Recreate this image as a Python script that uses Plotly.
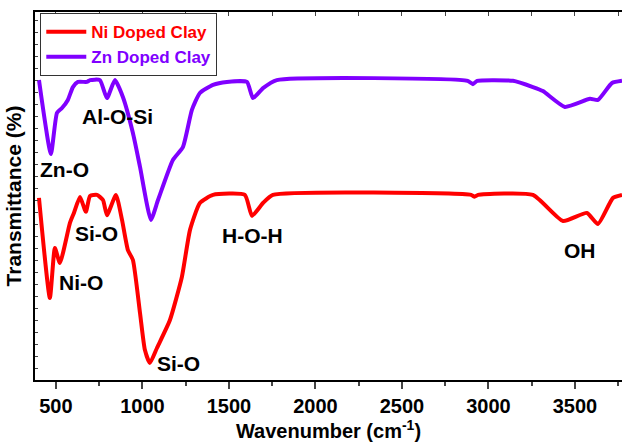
import plotly.graph_objects as go

# Wavenumber (cm-1) and transmittance (arbitrary %, offset curves)
ni_wavenumber = [402, 465, 494, 523, 581, 604, 639, 673, 697, 737, 772, 795, 847, 882, 916, 945,
                 986, 1014, 1043, 1084, 1159, 1228, 1275, 1332, 1408, 1592, 1633, 1697, 1754,
                 2900, 2920, 2940, 3257, 3431, 3569, 3633, 3720, 3772]
ni_transmittance = [49.5, 22.3, 35.9, 31.8, 42.7, 45.4, 49.7, 45.7, 50.0, 50.3, 48.9, 44.8, 50.3, 43.5,
                    35.3, 32.6, 18.2, 8.2, 4.6, 8.7, 16.3, 28.0, 40.8, 48.1, 50.3, 50.3, 44.6, 48.1,
                    50.3, 50.3, 49.8, 50.3, 50.3, 43.2, 45.4, 42.4, 49.5, 50.3]

zn_wavenumber = [402, 471, 506, 535, 569, 598, 627, 679, 697, 754, 795, 841, 887, 945, 986, 1049,
                 1090, 1176, 1234, 1286, 1332, 1408, 1488, 1604, 1639, 1697, 1777, 2880, 2910,
                 2935, 3142, 3257, 3315, 3442, 3587, 3633, 3714, 3772]
zn_transmittance = [81.5, 61.4, 72.6, 73.9, 76.1, 79.6, 81.0, 81.0, 81.5, 81.5, 76.6, 81.5, 76.9,
                    67.1, 57.9, 43.5, 48.9, 59.8, 63.3, 73.4, 78.0, 80.2, 81.0, 81.0, 76.6, 79.3,
                    81.5, 81.3, 80.4, 81.3, 81.3, 79.6, 78.5, 74.2, 76.4, 76.1, 80.7, 81.3]

series_names = ["Ni Doped Clay", "Zn Doped Clay"]
series_colors = ["#FF0000", "#8000FF"]

# Band labels: text, wavenumber, transmittance
band_labels = ["Zn-O", "Al-O-Si", "Si-O", "Ni-O", "Si-O", "H-O-H", "OH"]
band_wavenumber = [552, 853, 737, 645, 1211, 1639, 3529]
band_transmittance = [57.1, 71.5, 39.9, 26.6, 4.6, 39.4, 35.3]

x_ticks = [500, 1000, 1500, 2000, 2500, 3000, 3500]

FONT = "Arial, Liberation Sans, sans-serif"

fig = go.Figure()
for name, color, xs, ys in [
    (series_names[0], series_colors[0], ni_wavenumber, ni_transmittance),
    (series_names[1], series_colors[1], zn_wavenumber, zn_transmittance),
]:
    fig.add_trace(go.Scatter(
        x=xs, y=ys, mode="lines",
        line=dict(color=color, width=4, shape="spline", smoothing=0.5),
        name=f"<span style='color:{color}'>{name}</span>",
    ))

# invisible trace to drive the top mirrored axis
fig.add_trace(go.Scatter(x=[ni_wavenumber[0]], y=[ni_transmittance[0]], xaxis="x2",
                         mode="lines", showlegend=False, hoverinfo="skip",
                         line=dict(color="rgba(0,0,0,0)")))

for t, x, y in zip(band_labels, band_wavenumber, band_transmittance):
    fig.add_annotation(x=x, y=y, text=t, showarrow=False,
                       font=dict(family=FONT, size=21, color="black", weight="bold"))

fig.update_layout(
    width=622, height=444,
    margin=dict(l=35, r=0, t=12, b=64, autoexpand=False),
    plot_bgcolor="white", paper_bgcolor="white",
    font=dict(family=FONT, color="black", weight="bold"),
    showlegend=True,
    legend=dict(x=0.009, y=0.997, xanchor="left", yanchor="top",
                bordercolor="#333333", borderwidth=1, bgcolor="white",
                font=dict(family=FONT, size=17, weight="bold"),
                tracegroupgap=0, itemwidth=40),
    xaxis=dict(range=[379, 3772], tickvals=x_ticks, ticks="outside", ticklen=7, tickwidth=2,
               showline=True, linecolor="black", linewidth=2, showgrid=False, zeroline=False,
               automargin=False,
               tickfont=dict(family=FONT, size=20, weight="bold"),
               minor=dict(dtick=250, tick0=250, ticks="outside", ticklen=4, tickwidth=1.5),
               title=dict(text="Wavenumber (cm<sup>-1</sup>)", standoff=8,
                          font=dict(family=FONT, size=20, weight="bold"))),
    xaxis2=dict(range=[379, 3772], overlaying="x", side="top", showticklabels=False,
                ticks="inside", tickvals=[250 * i for i in range(2, 16)], ticklen=4, tickwidth=1,
                showline=True, linecolor="black", linewidth=2, showgrid=False, zeroline=False,
                automargin=False),
    yaxis=dict(range=[0, 100], showticklabels=False, ticks="inside", dtick=3.26, ticklen=3,
               tickwidth=1, showline=True, linecolor="black", linewidth=2, showgrid=False,
               zeroline=False, automargin=False,
               title=dict(text="Transmittance (%)", standoff=6,
                          font=dict(family=FONT, size=21, weight="bold"))),
)

fig.write_html("out.html", config={"displayModeBar": False},
               post_script="document.body.style.margin='0';document.body.style.overflow='hidden';")
